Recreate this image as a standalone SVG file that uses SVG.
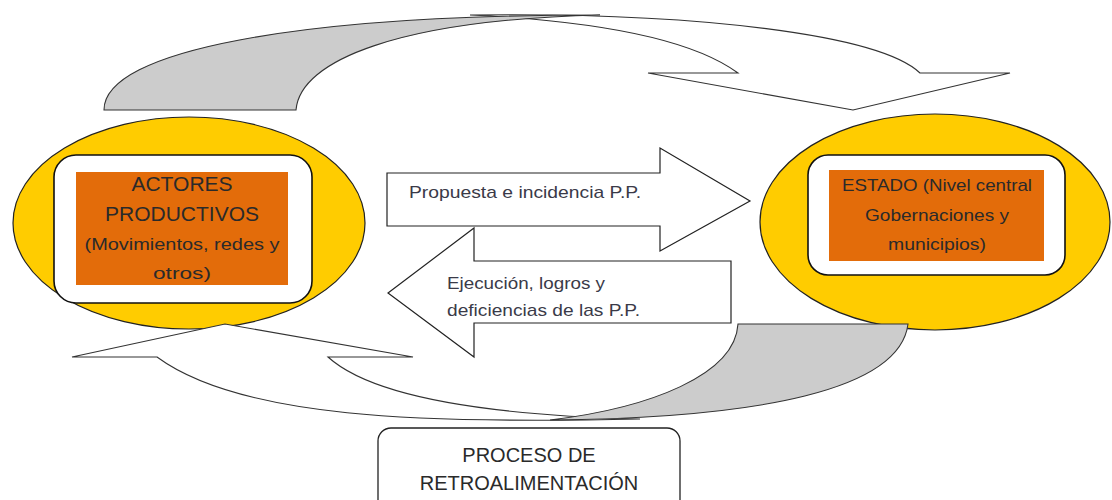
<svg xmlns="http://www.w3.org/2000/svg" width="1112" height="500" viewBox="0 0 1112 500">
<style>
.bg{fill:#fff}
.ell{fill:#FFCC00;stroke:#222;stroke-width:1.2}
.inner{fill:#fff;stroke:#111;stroke-width:1.6}
.org{fill:#E36C0A}
.gray{fill:#CCCCCC;stroke:#333;stroke-width:1.1}
.band{fill:#fff;stroke:#333;stroke-width:1.1}
.arr{fill:#fff;stroke:#222;stroke-width:1.2}
.box{fill:#fff;stroke:#222;stroke-width:1.3}
.ar{font-family:"Liberation Sans",Arial,sans-serif;fill:#2a2a2a}
.ca{font-family:"Liberation Sans",Arial,sans-serif;fill:#2a2a2a;font-size:17px}
.mid{font-family:"Liberation Sans",Arial,sans-serif;fill:#3a3a48;font-size:17px}
</style>
<rect class="bg" x="0" y="0" width="1112" height="500"/>

<g id="connectors">
  <g id="top-curved-arrow">
    <path class="band" d="M470,15 C700,12 880,35 920,73 L1010,73 L853,110 L648,73 L738,73 C700,45 620,22 470,15 Z"/>
    <path class="gray" d="M104,110 C104,50 300,15 600,15 C400,20 300,60 296,110 Z"/>
  </g>
</g>

<g id="node-actores">
  <ellipse class="ell" cx="189" cy="223" rx="176" ry="106"/>
  <rect class="inner" x="54" y="155" width="258" height="148" rx="22"/>
  <rect class="org" x="76" y="172" width="212" height="113"/>
  <text class="ar" font-size="21" x="182" y="191" text-anchor="middle">ACTORES</text>
  <text class="ar" font-size="21" x="182" y="221" text-anchor="middle">PRODUCTIVOS</text>
  <text class="ca" x="182" y="250" text-anchor="middle" textLength="195" lengthAdjust="spacingAndGlyphs">(Movimientos, redes y</text>
  <text class="ca" x="182" y="279" text-anchor="middle" textLength="58" lengthAdjust="spacingAndGlyphs">otros)</text>
</g>

<g id="node-estado">
  <ellipse class="ell" cx="935" cy="222" rx="175" ry="108"/>
  <rect class="inner" x="808" y="155" width="257" height="120" rx="20"/>
  <rect class="org" x="829" y="170" width="215" height="91"/>
  <text class="ca" x="937" y="191" text-anchor="middle" textLength="190" lengthAdjust="spacingAndGlyphs">ESTADO (Nivel central</text>
  <text class="ca" x="937" y="221" text-anchor="middle" textLength="144" lengthAdjust="spacingAndGlyphs">Gobernaciones y</text>
  <text class="ca" x="937" y="250" text-anchor="middle" textLength="98" lengthAdjust="spacingAndGlyphs">municipios)</text>
</g>

<g id="connectors-2">
  <g id="bottom-curved-arrow">
    <path class="band" d="M72,357 L225,324 L413,357 L328,357 C370,395 480,415 640,419 C420,424 240,418 157,357 Z"/>
    <path class="gray" d="M738,324 L908,324 C900,390 760,418 550,420 C650,408 735,375 738,324 Z"/>
  </g>
  <g id="arrow-propuesta">
    <path class="arr" d="M387,173 L660,173 L660,148 L750,201 L660,251 L660,226 L387,226 Z"/>
    <text class="mid" x="409" y="198" textLength="232" lengthAdjust="spacingAndGlyphs">Propuesta e incidencia P.P.</text>
  </g>
  <g id="arrow-ejecucion">
    <path class="arr" d="M731,261 L474,261 L474,228 L388,293 L474,357 L474,323 L731,323 Z"/>
    <text class="mid" x="447" y="289" textLength="158" lengthAdjust="spacingAndGlyphs">Ejecución, logros y</text>
    <text class="mid" x="447" y="316" textLength="193" lengthAdjust="spacingAndGlyphs">deficiencias de las P.P.</text>
  </g>
</g>

<g id="node-proceso">
  <rect class="box" x="378" y="428" width="302" height="90" rx="13"/>
  <text class="ar" font-size="20" x="529" y="462" text-anchor="middle">PROCESO DE</text>
  <text class="ar" font-size="20" x="529" y="490" text-anchor="middle">RETROALIMENTACIÓN</text>
</g>
</svg>
